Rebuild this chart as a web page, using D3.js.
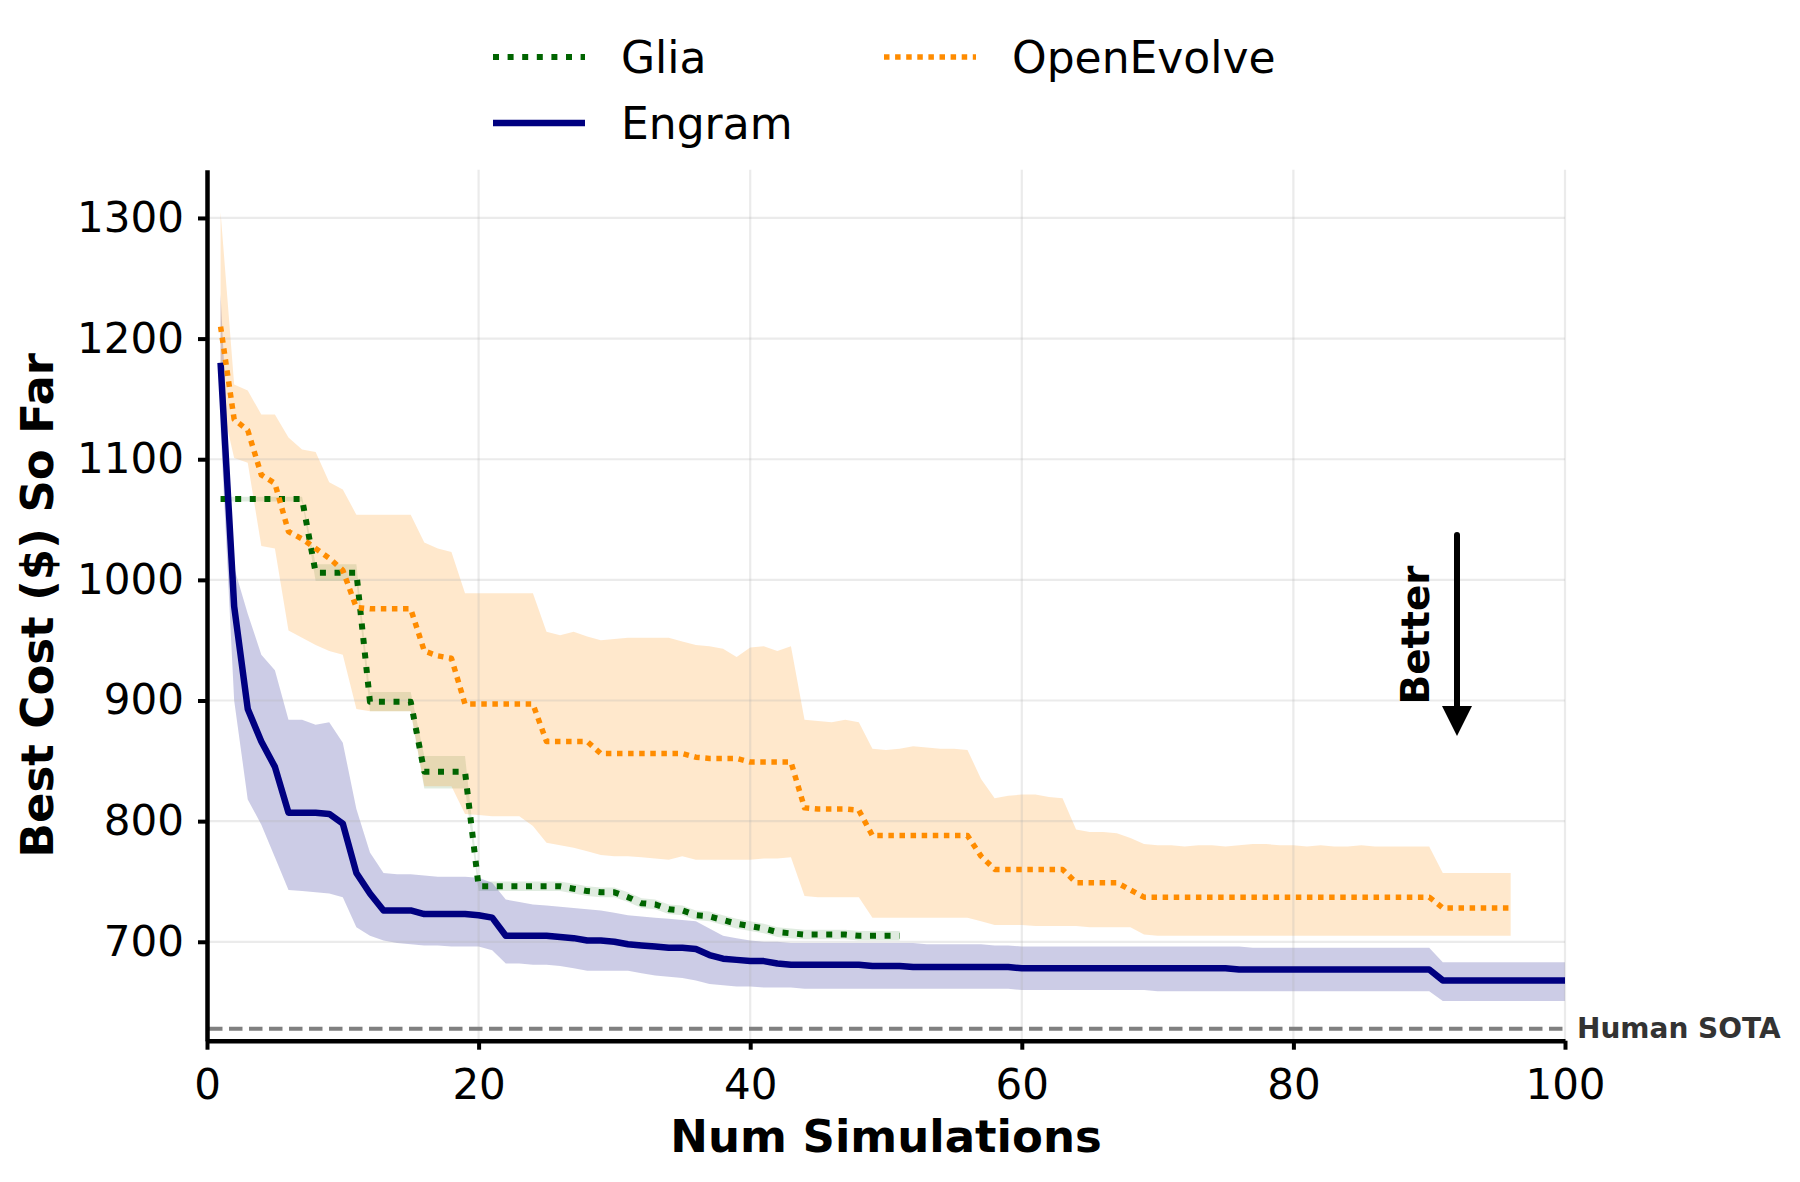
<!DOCTYPE html>
<html lang="en">
<head>
<meta charset="UTF-8">
<title>Best Cost So Far</title>
<script src="https://d3js.org/d3.v7.min.js"></script>
<style>
  body { margin: 0; background: #fff; }
  svg { display: block; font-family: "DejaVu Sans", sans-serif; }
</style>
</head>
<body>
<svg></svg>
<script>

var width = 1800, height = 1182;

// ---- data ----
var xTicks = [0, 20, 40, 60, 80, 100];
var yTicks = [700, 800, 900, 1000, 1100, 1200, 1300];
var humanSota = 628;

// Engram, simulations 1..100
var engramMean = [1180, 978, 893, 866, 845, 807, 807, 807, 806, 798,
  757, 740, 726, 726, 726, 723, 723, 723, 723, 722,
  720, 705, 705, 705, 705, 704, 703, 701, 701, 700,
  698, 697, 696, 695, 695, 694, 689, 686, 685, 684,
  684, 682, 681, 681, 681, 681, 681, 681, 680, 680,
  680, 679, 679, 679, 679, 679, 679, 679, 679, 678,
  678, 678, 678, 678, 678, 678, 678, 678, 678, 678,
  678, 678, 678, 678, 678, 677, 677, 677, 677, 677,
  677, 677, 677, 677, 677, 677, 677, 677, 677, 677,
  668, 668, 668, 668, 668, 668, 668, 668, 668, 668];
var engramUpper = [1237, 1010, 972, 938, 925, 884, 884, 880, 882, 865,
  810, 774, 757, 756, 756, 755, 754, 754, 754, 753,
  749, 735, 733, 731, 730, 729, 728, 727, 726, 724,
  722, 721, 720, 719, 718, 717, 711, 705, 703, 701,
  700, 700, 699, 699, 699, 699, 699, 699, 699, 699,
  699, 699, 698, 698, 698, 698, 698, 697, 697, 696,
  696, 696, 696, 696, 696, 696, 696, 696, 696, 696,
  696, 696, 696, 696, 696, 696, 695, 695, 695, 695,
  695, 695, 695, 695, 695, 695, 695, 695, 695, 695,
  683, 683, 683, 683, 683, 683, 683, 683, 683, 683];
var engramLower = [1125, 900, 818, 797, 770, 743, 742, 741, 740, 737,
  712, 705, 701, 699, 698, 697, 697, 696, 696, 696,
  693, 682, 682, 681, 681, 680, 678, 676, 676, 676,
  676, 674, 672, 671, 670, 668, 665, 664, 663, 663,
  662, 662, 662, 661, 661, 661, 661, 661, 661, 661,
  661, 661, 661, 661, 661, 661, 661, 661, 661, 660,
  660, 660, 660, 660, 660, 660, 660, 660, 660, 659,
  659, 659, 659, 659, 659, 659, 659, 659, 659, 659,
  659, 659, 659, 659, 659, 659, 659, 659, 659, 659,
  651, 651, 651, 651, 651, 651, 651, 651, 651, 651];

// Glia, simulations 1..51
var gliaMean = [1067, 1067, 1067, 1067, 1067, 1067, 1067, 1006, 1006, 1006,
  1006, 899, 899, 899, 899, 841, 841, 841, 841, 746,
  746, 746, 746, 746, 746, 746, 744, 742, 741, 741,
  737, 732, 731, 727, 726, 722, 721, 718, 715, 713,
  711, 708, 707, 706, 706, 706, 706, 705, 705, 705,
  705];
var gliaUpper = [1069, 1069, 1069, 1069, 1069, 1069, 1069, 1013, 1013, 1013,
  1013, 907, 907, 907, 907, 854, 854, 854, 854, 750,
  750, 750, 750, 750, 750, 750, 748, 746, 745, 745,
  741, 736, 735, 731, 730, 726, 725, 722, 719, 717,
  715, 712, 711, 710, 710, 710, 710, 709, 709, 709,
  709];
var gliaLower = [1065, 1065, 1065, 1065, 1065, 1065, 1065, 999, 999, 999,
  999, 891, 891, 891, 891, 827, 827, 827, 827, 742,
  742, 742, 742, 742, 742, 742, 740, 738, 737, 737,
  733, 728, 727, 723, 722, 718, 717, 714, 711, 709,
  707, 704, 703, 702, 702, 702, 702, 701, 701, 701,
  701];

// OpenEvolve, simulations 1..96
var openMean = [1210, 1133, 1124, 1087, 1080, 1040, 1034, 1026, 1018, 1008,
  977, 976, 976, 976, 976, 941, 937, 935, 897, 897,
  897, 897, 897, 897, 866, 866, 866, 866, 856, 856,
  856, 856, 856, 856, 856, 853, 852, 852, 852, 849,
  849, 849, 849, 811, 810, 810, 810, 809, 788, 788,
  788, 788, 788, 788, 788, 788, 771, 760, 760, 760,
  760, 760, 760, 749, 749, 749, 749, 743, 737, 737,
  737, 737, 737, 737, 737, 737, 737, 737, 737, 737,
  737, 737, 737, 737, 737, 737, 737, 737, 737, 737,
  728, 728, 728, 728, 728, 728];
var openUpper = [1305, 1162, 1157, 1137, 1137, 1118, 1108, 1106, 1081, 1075,
  1054, 1054, 1054, 1054, 1054, 1031, 1026, 1023, 989, 989,
  989, 989, 989, 989, 957, 954, 957, 953, 950, 951,
  952, 952, 952, 952, 949, 946, 945, 943, 936, 944,
  945, 941, 945, 884, 883, 882, 884, 882, 860, 859,
  860, 862, 861, 860, 860, 859, 835, 819, 821, 822,
  822, 820, 819, 793, 791, 791, 790, 786, 781, 780,
  780, 779, 780, 780, 779, 780, 781, 781, 780, 780,
  779, 780, 779, 779, 780, 779, 779, 779, 779, 779,
  757, 757, 757, 757, 757, 757];
var openLower = [1150, 1101, 1097, 1028, 1026, 958, 952, 946, 941, 938,
  893, 891, 891, 891, 891, 829, 829, 829, 806, 805,
  804, 804, 804, 796, 782, 780, 778, 775, 772, 771,
  771, 770, 769, 768, 771, 768, 768, 768, 768, 768,
  769, 769, 770, 738, 737, 737, 737, 737, 720, 720,
  720, 720, 720, 720, 720, 720, 717, 714, 714, 714,
  713, 713, 713, 713, 712, 712, 712, 712, 706, 705,
  705, 705, 705, 705, 705, 705, 705, 705, 705, 705,
  705, 705, 705, 705, 705, 705, 705, 705, 705, 705,
  705, 705, 705, 705, 705, 705];

var series = [
  {name: "Glia", mean: gliaMean, lo: gliaLower, hi: gliaUpper, color: "#006400",
   width: 6, dash: "6,8.6", fillOpacity: 0.12},
  {name: "Engram", mean: engramMean, lo: engramLower, hi: engramUpper, color: "#000080",
   width: 6.5, dash: null, fillOpacity: 0.2},
  {name: "OpenEvolve", mean: openMean, lo: openLower, hi: openUpper, color: "#ff8c00",
   width: 5.5, dash: "5.5,5.6", fillOpacity: 0.2}
];

var svg = d3.select("svg").attr("width", width).attr("height", height);

var x = d3.scaleLinear().domain([0, 100]).range([207, 1565]);
var y = d3.scaleLinear().domain([618, 1340]).range([1040.7, 169.7]);

svg.append("clipPath").attr("id", "plot")
  .append("rect")
  .attr("x", x(0)).attr("y", y(1340))
  .attr("width", x(100) - x(0)).attr("height", y(618) - y(1340));

// fills first (under the grid)
var fills = svg.append("g").attr("clip-path", "url(#plot)");
series.forEach(function (s) {
  var area = d3.area()
    .x(function (d) { return x(d + 1); })
    .y0(function (d) { return y(s.lo[d]); })
    .y1(function (d) { return y(s.hi[d]); });
  fills.append("path")
    .attr("d", area(d3.range(s.mean.length)))
    .attr("fill", s.color)
    .attr("fill-opacity", s.fillOpacity);
});

// grid
var grid = svg.append("g");
grid.selectAll(".gx").data(xTicks.slice(1)).enter().append("line")
  .attr("x1", function (d) { return x(d); }).attr("x2", function (d) { return x(d); })
  .attr("y1", y(618)).attr("y2", y(1340));
grid.selectAll(".gy").data(yTicks).enter().append("line")
  .attr("x1", x(0)).attr("x2", x(100))
  .attr("y1", function (d) { return y(d); }).attr("y2", function (d) { return y(d); });
grid.selectAll("line")
  .attr("stroke", "#b0b0b0").attr("stroke-opacity", 0.25).attr("stroke-width", 2.2);

// lines
var lines = svg.append("g").attr("clip-path", "url(#plot)");
series.forEach(function (s) {
  var line = d3.line()
    .x(function (d) { return x(d + 1); })
    .y(function (d) { return y(s.mean[d]); });
  lines.append("path")
    .attr("d", line(d3.range(s.mean.length)))
    .attr("fill", "none")
    .attr("stroke", s.color)
    .attr("stroke-width", s.width)
    .attr("stroke-dasharray", s.dash)
    .attr("stroke-linejoin", "round");
});

// human SOTA reference
lines.append("line")
  .attr("x1", x(0) + 2).attr("x2", x(100))
  .attr("y1", y(humanSota)).attr("y2", y(humanSota))
  .attr("stroke", "#808080").attr("stroke-width", 4)
  .attr("stroke-dasharray", "13.5,6.5");
svg.append("text")
  .attr("x", 1577).attr("y", y(humanSota) + 9.5)
  .attr("font-size", 28).attr("font-weight", "bold").attr("fill", "#333")
  .text("Human SOTA");

// axes
var yAxis = d3.axisLeft(y).tickValues(yTicks).tickFormat(d3.format("d"))
  .tickSize(9).tickSizeOuter(0).tickPadding(14);
var xAxis = d3.axisBottom(x).tickValues(xTicks).tickFormat(d3.format("d"))
  .tickSize(9).tickSizeOuter(0).tickPadding(19);

var gy = svg.append("g").attr("transform", "translate(" + x(0) + ",0)").call(yAxis);
var gx = svg.append("g").attr("transform", "translate(0," + y(618) + ")").call(xAxis);
[gx, gy].forEach(function (g) {
  g.attr("font-family", "DejaVu Sans").attr("font-size", 42);
  g.select(".domain").attr("stroke", "#000").attr("stroke-width", 4.5);
  g.selectAll(".tick line").attr("stroke", "#000").attr("stroke-width", 4);
  g.selectAll(".tick text").attr("fill", "#000");
});

svg.append("text")
  .attr("x", (x(0) + x(100)) / 2).attr("y", 1152)
  .attr("text-anchor", "middle").attr("font-size", 45).attr("font-weight", "bold")
  .text("Num Simulations");

svg.append("text")
  .attr("transform", "translate(53," + (y(618) + y(1340)) / 2 + ") rotate(-90)")
  .attr("text-anchor", "middle").attr("font-size", 45).attr("font-weight", "bold")
  .text("Best Cost ($) So Far");

// "Better" arrow
svg.append("line")
  .attr("x1", 1457).attr("x2", 1457).attr("y1", 535).attr("y2", 708)
  .attr("stroke", "#000").attr("stroke-width", 6).attr("stroke-linecap", "round");
svg.append("path")
  .attr("d", "M1442,706 L1472,706 L1457,736 Z")
  .attr("fill", "#000");
svg.append("text")
  .attr("transform", "translate(1428.6,635) rotate(-90)")
  .attr("text-anchor", "middle").attr("font-size", 39).attr("font-weight", "bold")
  .text("Better");

// legend (two columns: Glia, Engram | OpenEvolve)
var legendPos = [
  {s: series[0], hx: 493, ty: 57},
  {s: series[1], hx: 493, ty: 123},
  {s: series[2], hx: 884, ty: 57}
];
var legend = svg.append("g");
legendPos.forEach(function (p) {
  legend.append("line")
    .attr("x1", p.hx).attr("x2", p.hx + 92)
    .attr("y1", p.ty).attr("y2", p.ty)
    .attr("stroke", p.s.color).attr("stroke-width", p.s.width)
    .attr("stroke-dasharray", p.s.dash);
  legend.append("text")
    .attr("x", p.hx + 128).attr("y", p.ty + 16)
    .attr("font-size", 44)
    .text(p.s.name);
});

</script>
</body>
</html>
